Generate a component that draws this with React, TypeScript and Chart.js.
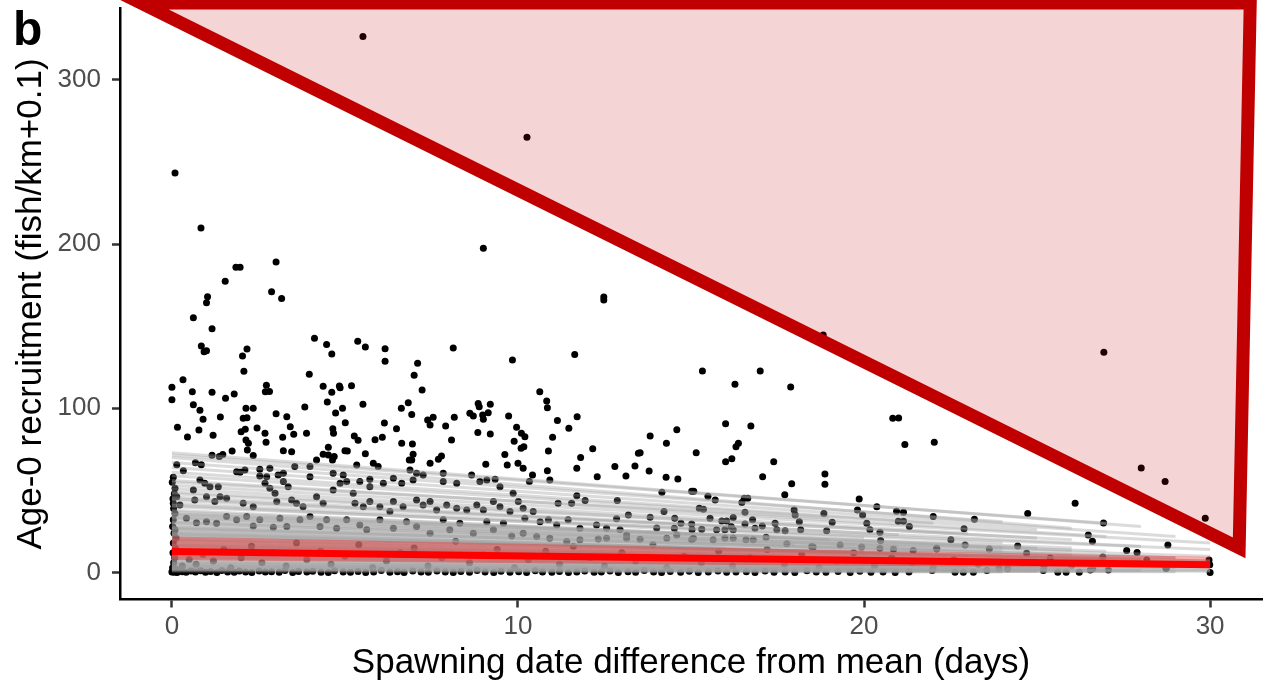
import React, { useEffect, useRef } from 'react';
import { Chart, registerables } from 'chart.js';
Chart.register(...registerables);

// axis ticks
const xTicks = [0, 10, 20, 30];
const yTicks = [0, 100, 200, 300];

// observed points: spawning date difference (days) and recruitment (fish/km+0.1)
const spawnDiff = [
  // high values
  5.52, 10.26, 0.09, 0.84, 1.85, 1.97, 3.01, 1.54, 1.03, 1.00, 2.88, 3.17, 0.62, 1.16, 0.85, 0.93, 1.00, 2.17, 2.04, 2.08,
  4.12, 4.47, 4.62, 5.37, 5.59, 6.16, 6.16, 3.97, 0.00, 0.00, 0.32, 0.59, 0.62, 0.81, 0.90, 1.16, 1.55, 1.80, 2.73, 2.70,
  2.82, 4.37, 4.62, 4.84, 4.86, 5.19, 4.49, 4.73, 4.93, 5.52, 3.84, 2.14, 2.35, 2.06, 2.17, 3.01, 3.32, 1.40, 0.16, 0.45,
  0.78, 1.19, 2.00, 2.12, 2.14, 2.21, 2.46, 2.69, 2.72, 3.20, 3.42, 3.52, 3.89, 3.22, 3.46, 1.74, 4.65, 4.67, 5.01, 5.27,
  5.38, 5.87, 6.08, 6.14, 6.49, 6.63, 6.83, 6.64, 4.52, 4.37, 4.52, 4.69, 5.00, 5.07, 5.59, 0.14, 0.68, 0.85, 1.16, 1.37,
  1.47, 9.00, 12.48, 12.48, 8.13, 7.10, 7.00, 7.23, 9.84, 11.64, 10.63, 10.83, 10.85, 6.93, 7.39, 7.55, 7.46, 7.91, 8.16, 8.08,
  8.61, 8.71, 8.85, 8.88, 8.98, 9.00, 9.14, 9.20, 8.84, 9.20, 9.73, 9.96, 10.10, 10.20, 9.89, 10.09, 10.17, 11.14, 11.47, 11.71,
  11.00, 10.88, 12.16, 11.81, 13.48, 13.82, 6.95, 6.97, 6.86, 7.79, 7.70, 7.46, 9.07, 9.62, 9.69, 10.00, 12.80, 13.38,
  18.82, 15.33, 17.00, 16.27, 17.88, 16.00, 16.73, 14.59, 14.29, 13.53, 15.15, 16.37, 16.30, 16.18, 16.00, 17.39, 13.79, 14.28,
  14.62, 17.07, 17.91, 18.87, 18.87, 14.16, 15.02, 15.08, 15.49, 15.70, 17.71, 19.86, 20.37, 20.83, 21.00, 21.18, 22.03, 16.54,
  16.64, 16.47, 15.24, 15.36, 16.56, 26.93, 28.01, 28.70, 29.86, 26.10, 24.73, 26.92, 26.48, 28.78, 27.59, 27.89, 29.97, 28.17,
  // upper part of the dense band
  4.18, 4.64, 5.34, 5.82, 5.96, 6.93, 2.18, 2.35, 0.33, 0.04, 1.87, 1.97, 2.11, 2.54, 2.83, 2.54, 2.74, 3.07, 3.22, 3.55,
  3.99, 3.99, 4.66, 4.95, 5.43, 5.72, 5.72, 6.11, 6.40, 6.64, 6.88, 7.07, 7.26, 6.97, 7.84, 7.84, 8.23, 8.66, 8.90, 9.10,
  9.34, 9.48, 10.15, 10.33, 10.42, 10.85, 10.92, 11.70, 12.29, 13.12, 11.94, 12.87,
  // mid band
  0.09, 0.14, 0.04, 0.23, 0.62, 0.81, 0.95, 1.10, 1.34, 0.66, 1.00, 1.24, 1.39, 1.58, 2.06, 2.35, 2.69, 2.83, 2.98, 3.03,
  3.22, 3.36, 3.46, 3.60, 3.79, 4.18, 4.37, 4.66, 4.86, 5.05, 5.24, 5.29, 5.53, 5.72, 6.01, 6.30, 6.40, 6.68, 7.07, 7.26,
  7.46, 7.65, 7.94, 8.23, 8.52, 8.81, 9.00, 9.29, 9.48, 9.86, 10.01, 9.77, 10.15, 10.44, 10.20, 10.64, 10.88, 11.16, 11.12, 11.45,
  11.55, 11.79, 11.70, 12.27, 12.56, 12.85, 12.95, 13.19, 13.14, 14.22, 13.82, 14.53, 14.01, 14.52, 14.71, 15.02, 15.03, 15.31, 15.55, 15.74,
  15.89, 16.03, 16.22, 15.98, 16.16, 16.22, 16.56, 16.78, 16.85, 17.06, 17.43, 17.48, 17.72, 17.98, 18.01, 18.13, 18.17, 18.84, 19.08, 18.92,
  19.81, 19.96, 20.08, 20.17, 20.46, 20.48, 20.94, 21.14, 20.99, 21.14, 21.31, 22.00, 23.19, 22.89, 22.51, 22.10, 22.92, 23.62, 24.44, 24.70,
  25.38, 26.60, 28.73,
  // lower band
  0.04, 0.09, 0.42, 0.71, 1.00, 1.29, 1.58, 1.87, 2.16, 2.35, 2.54, 2.93, 3.12, 3.32, 3.70, 3.99, 4.28, 4.47, 4.76, 5.05,
  5.43, 5.63, 6.01, 6.40, 6.78, 7.07, 7.46, 7.84, 8.03, 8.32, 8.71, 9.10, 9.29, 9.58, 9.82, 10.15, 10.54, 10.92, 11.41, 11.79,
  12.32, 12.56, 13.14, 13.53, 14.30, 14.59, 15.02, 15.07, 15.64, 15.98, 16.22, 16.59, 16.80, 17.17, 17.77, 18.49, 18.53, 19.31, 19.93, 20.46,
  20.85, 21.42, 22.10,
  // near-zero values
  0.02, 0.05, 0.08, 0.03, 0.10, 0.04, 0.12, 0.06, 0.02, 0.09, 0.05, 0.03, 0.07, 0.01, 0.11, 0.30, 0.50, 0.70, 0.90, 1.20,
  1.50, 1.70, 2.00, 2.30, 2.60, 2.90, 3.30, 3.60, 3.90, 4.30, 4.60, 5.00, 5.40, 5.80, 6.20, 6.60, 7.00, 7.40, 7.80, 8.20,
  8.60, 9.00, 9.40, 9.90, 10.30, 10.80, 11.20, 11.60, 12.10, 12.50, 13.00, 13.40, 13.90, 14.30, 14.80, 15.30, 15.80, 16.20, 16.70, 17.20,
  17.70, 18.20, 18.70, 19.20, 19.70, 20.30, 20.80, 21.40, 22.00, 22.60, 23.30, 23.90, 24.60, 25.20, 26.00, 26.90, 27.80,
  0.00, 0.03, 0.06, 0.10, 0.15, 0.22, 0.30, 0.41, 0.55, 0.68, 0.83, 0.97, 1.12, 1.30, 1.44, 1.61, 1.80, 1.95, 2.13, 2.31,
  2.52, 2.70, 2.88, 3.10, 3.27, 3.49, 3.66, 3.90, 4.07, 4.31, 4.52, 4.70, 4.95, 5.16, 5.38, 5.60, 5.83, 6.05, 6.30, 6.52,
  6.71, 6.96, 7.20, 7.41, 7.66, 7.90, 8.13, 8.35, 8.60, 8.82, 9.05, 9.30, 9.51, 9.77, 10.02, 10.25, 10.50, 10.71, 10.98, 11.20,
  11.46, 11.70, 11.93, 12.20, 12.41, 12.66, 12.90, 13.18, 13.40, 13.65, 13.92, 14.15, 14.40, 14.70, 14.95, 15.21, 15.50, 15.78, 16.03, 16.30,
  16.60, 16.85, 17.14, 17.40, 17.72, 18.00, 18.35, 18.62, 18.90, 19.25, 19.60, 19.88, 20.20, 20.55, 20.90, 21.30, 21.97, 22.63, 22.87, 23.16,
  23.55, 24.15, 25.18, 25.60, 25.84, 26.22, 26.54, 26.61, 27.06, 28.73, 30.00, 29.99
];
const recruitment = [
  326.3, 265.0, 243.3, 209.7, 185.8, 185.8, 189.0, 177.3, 167.9, 164.2, 170.9, 166.9, 155.1, 148.4, 137.9, 134.4, 135.0, 136.1, 131.8, 122.5,
  142.6, 138.9, 133.0, 140.8, 137.3, 136.3, 128.6, 120.7, 112.8, 105.2, 117.4, 110.1, 102.2, 98.8, 93.3, 109.7, 106.1, 108.7, 114.0, 110.1,
  110.3, 113.4, 109.7, 113.6, 112.5, 113.7, 103.8, 97.1, 100.0, 102.4, 100.8, 100.0, 100.0, 93.9, 94.3, 96.7, 94.9, 94.7, 88.4, 82.5,
  86.8, 83.6, 85.8, 87.2, 80.7, 78.7, 88.0, 84.8, 79.3, 82.4, 88.8, 84.2, 84.8, 74.2, 73.6, 74.0, 87.6, 84.8, 91.2, 83.2,
  80.5, 80.9, 82.4, 91.1, 87.6, 100.0, 103.4, 78.7, 76.3, 72.0, 71.6, 70.6, 74.2, 74.0, 72.4, 65.7, 66.9, 65.7, 71.4, 70.6,
  71.8, 197.5, 165.9, 167.7, 136.7, 127.4, 120.1, 111.1, 129.4, 132.8, 110.1, 104.4, 100.4, 96.3, 92.9, 94.5, 89.8, 89.2, 94.5, 80.7,
  97.0, 95.3, 103.0, 101.0, 95.9, 93.3, 97.3, 102.4, 85.2, 84.4, 95.3, 88.4, 84.8, 82.7, 79.9, 75.7, 76.6, 92.5, 87.8, 94.9,
  82.4, 74.0, 75.4, 70.0, 72.6, 83.2, 78.3, 72.0, 68.6, 71.0, 69.0, 66.5, 65.9, 71.8, 65.5, 66.5, 64.5, 64.9,
  144.6, 122.7, 122.7, 114.6, 113.0, 90.6, 89.2, 87.0, 78.7, 73.0, 73.0, 78.7, 76.6, 69.3, 67.5, 67.5, 61.9, 58.0,
  57.0, 58.4, 54.1, 60.0, 53.8, 48.9, 49.5, 49.5, 46.5, 44.2, 47.4, 44.8, 40.1, 93.9, 94.1, 77.9, 79.3, 45.3,
  45.3, 42.6, 39.2, 38.6, 36.7, 134.1, 63.7, 55.4, 33.1, 42.2, 35.9, 30.2, 22.9, 16.8, 13.4, 12.2, 7.7, 7.7,
  68.5, 68.5, 65.5, 66.5, 64.5, 68.5, 74.6, 71.2, 62.0, 58.0, 61.4, 61.1, 62.5, 62.9, 63.5, 58.8, 58.4, 59.4, 60.4, 64.5,
  64.5, 58.4, 60.4, 59.4, 55.4, 56.8, 52.3, 54.4, 57.4, 54.4, 62.5, 60.4, 59.4, 56.4, 60.4, 55.4, 54.4, 59.4, 55.4, 56.4,
  56.8, 52.3, 63.5, 55.4, 59.4, 62.0, 56.4, 63.5, 58.4, 58.8, 43.8, 43.8,
  51.3, 46.2, 42.2, 41.2, 50.3, 56.4, 54.4, 52.3, 52.3, 44.2, 46.2, 43.2, 46.2, 45.3, 42.2, 40.1, 54.4, 51.3, 48.3, 43.2,
  55.4, 52.3, 44.2, 42.2, 40.1, 46.2, 42.2, 50.3, 54.4, 55.4, 48.3, 42.2, 40.1, 43.2, 40.1, 37.1, 43.2, 40.1, 44.2, 41.2,
  43.2, 38.1, 41.2, 39.2, 38.1, 41.2, 38.1, 43.2, 40.1, 48.3, 43.2, 37.1, 39.2, 37.1, 33.1, 31.0, 32.1, 42.2, 29.0, 32.1,
  42.2, 27.0, 46.7, 29.0, 27.0, 32.7, 26.0, 35.1, 22.9, 37.1, 33.7, 33.1, 27.2, 27.0, 30.0, 29.6, 26.0, 26.4, 33.1, 26.0,
  31.4, 31.4, 33.5, 26.0, 28.0, 26.0, 29.6, 32.1, 27.0, 28.4, 30.0, 26.0, 25.5, 38.1, 35.1, 31.0, 26.0, 35.9, 30.7, 25.5,
  38.1, 35.1, 30.0, 26.0, 24.6, 19.5, 37.3, 36.7, 31.3, 31.3, 28.0, 34.1, 32.5, 26.6, 19.9, 14.4, 16.8, 14.4, 16.2, 11.8,
  8.8, 19.0, 2.7,
  32.1, 26.0, 33.1, 30.4, 31.0, 30.0, 34.1, 32.1, 34.1, 28.4, 32.1, 27.6, 33.1, 28.0, 32.1, 34.1, 28.0, 32.1, 27.0, 32.1,
  29.0, 26.0, 32.1, 27.0, 31.0, 28.0, 24.0, 32.1, 26.0, 30.0, 24.0, 31.0, 26.0, 30.0, 22.3, 24.0, 21.9, 20.9, 18.9, 19.9,
  20.5, 20.9, 20.9, 20.3, 20.9, 22.9, 19.9, 20.9, 19.9, 20.9, 20.9, 19.9, 19.9, 21.5, 17.5, 15.8, 15.5, 16.8, 15.5, 14.8,
  14.2, 13.4, 14.8,
  3.0, 6.0, 9.0, 12.0, 15.0, 18.0, 21.0, 24.0, 28.0, 36.0, 39.0, 45.0, 48.0, 55.0, 2.0, 4.0, 8.0, 5.0, 11.0, 7.0,
  14.0, 3.0, 9.0, 16.0, 6.0, 12.0, 4.0, 18.0, 8.0, 13.0, 5.0, 10.0, 17.0, 3.0, 7.0, 12.0, 15.0, 4.0, 9.0, 19.0,
  6.0, 11.0, 14.0, 3.0, 8.0, 13.0, 5.0, 16.0, 9.0, 4.0, 12.0, 7.0, 17.0, 3.0, 10.0, 6.0, 13.0, 4.0, 9.0, 14.0,
  5.0, 11.0, 3.0, 7.0, 12.0, 4.0, 9.0, 6.0, 3.0, 8.0, 5.0, 2.5, 6.0, 3.5, 4.5, 9.5, 5.4,
  0.4, 1.2, 0.2, 0.8, 0.1, 1.4, 0.5, 0.2, 0.9, 0.3, 1.1, 0.2, 0.6, 0.1, 1.3, 0.4, 0.2, 0.9, 0.3, 0.1,
  1.0, 0.3, 0.5, 0.2, 1.2, 0.1, 0.6, 0.3, 0.8, 0.2, 0.1, 1.1, 0.4, 0.2, 0.7, 0.1, 0.3, 1.3, 0.2, 0.5,
  0.1, 0.9, 0.3, 0.2, 1.0, 0.4, 0.1, 0.6, 0.2, 1.2, 0.3, 0.1, 0.8, 0.2, 0.5, 0.1, 1.1, 0.3, 0.2, 0.7,
  0.1, 0.4, 1.0, 0.2, 0.3, 0.9, 0.1, 0.5, 0.2, 1.2, 0.3, 0.1, 0.6, 0.2, 0.8, 0.1, 0.4, 1.0, 0.2, 0.3,
  0.5, 0.1, 0.9, 0.2, 0.4, 0.1, 1.1, 0.3, 0.2, 0.6, 0.1, 0.8, 0.2, 0.4, 0.1, 0.3, 1.2, 0.2, 0.2, 0.2,
  1.2, 2.3, 1.2, 0.2, 0.2, 0.2, 1.6, 2.3, 1.6, 2.7, 0.0, 4.8
];

// group-level fitted lines: value at day 0, last day, value at last day
const groupStart = [
  73, 71.5, 70, 67, 64, 61, 59, 56, 53, 51, 48, 46, 44, 42, 40, 38, 36, 34, 32, 30,
  29, 27, 26, 24, 23, 21, 20, 19, 17, 16, 15, 14, 13, 12, 11, 10, 9, 8, 7, 6,
  5.5, 5, 4, 3.5, 3, 2.5, 2, 1.5, 45, 35, 25, 18, 55, 28, 22, 33,
  1, 2.2, 3.8, 4.5, 6.5, 8.5, 9.5, 10.5, 12.5, 13.5, 15.5, 17.5, 19.5, 22.5, 24.5, 26.5, 31, 37, 41, 49,
  27.5, 30.5, 33.5, 35.5, 23.5, 20.5, 16.5, 11.5
];
const groupEndX = [
  28, 27, 26, 24, 29, 25, 22, 27, 30, 23, 26, 21, 28, 24, 30, 19, 25, 27, 22, 30,
  24, 26, 20, 28, 23, 30, 25, 18, 27, 22, 30, 24, 26, 21, 29, 25, 30, 23, 27, 20,
  30, 26, 24, 28, 22, 30, 25, 29, 17, 15, 16, 14, 19, 29, 30, 21,
  24, 27, 30, 21, 26, 29, 23, 30, 25, 28, 22, 30, 24, 27, 21, 29, 26, 23, 20, 25,
  22, 18, 24, 26, 20, 28, 23, 19
];
const groupEnd = [
  28, 30, 27, 31, 22, 26, 30, 22, 18, 24, 20, 23, 16, 18, 14, 20, 15, 13, 15, 10,
  13, 11, 13, 8, 10, 7, 8, 10, 6, 7, 5, 6, 5, 6, 4, 4, 3, 3.5, 2.5, 3,
  2, 2, 1.5, 1.2, 1.2, 0.8, 0.7, 0.5, 27, 23, 15, 11, 33, 9, 7, 16,
  0.4, 0.8, 1.2, 2.2, 2.6, 2.9, 4.2, 3.6, 5, 5, 7.3, 6, 8, 8.5, 11.5, 9, 13.5, 17, 21, 21,
  13, 17, 15, 15, 12, 8, 7.5, 6.5
];

// population-level fit and its interval
const meanLineX = [0, 30];
const meanLineY = [12.8, 4.7];
const ribbonX = [0, 15, 30];
const ribbonUpper = [21.9, 15.4, 9.7];
const ribbonLower = [7.7, 4.7, 2.9];

// highlighted region (triangle), in data units
const highlightX = [-0.9, 31.16, 30.84];
const highlightY = [346.8, 346.8, 15.0];

const panelLabel = 'b';
const xTitle = 'Spawning date difference from mean (days)';
const yTitle = 'Age-0 recruitment (fish/km+0.1)';

const FONT = "'Liberation Sans', Arial, sans-serif";

export default function App() {
  const ref = useRef<HTMLCanvasElement>(null);
  useEffect(() => {
    if (!ref.current) return;
    const points = spawnDiff.map((x, i) => ({ x, y: recruitment[i] }));
    const groupSets = groupStart.map((s, i) => ({
      type: 'line' as const,
      data: [{ x: 0, y: s }, { x: groupEndX[i], y: groupEnd[i] }],
      borderColor: 'rgba(160,160,160,0.38)',
      borderWidth: 3,
      pointRadius: 0,
      fill: false,
      order: 2,
    }));
    const overlay = {
      id: 'overlay',
      afterDatasetsDraw(chart: any) {
        const { ctx, scales } = chart;
        const xs = scales.x, ys = scales.y;
        ctx.save();
        ctx.beginPath();
        highlightX.forEach((v, i) => {
          const px = xs.getPixelForValue(v);
          const py = ys.getPixelForValue(highlightY[i]);
          if (i === 0) ctx.moveTo(px, py); else ctx.lineTo(px, py);
        });
        ctx.closePath();
        ctx.fillStyle = 'rgba(192,0,0,0.17)';
        ctx.fill();
        ctx.lineWidth = 13;
        ctx.lineJoin = 'miter';
        ctx.miterLimit = 20;
        ctx.strokeStyle = '#c00000';
        ctx.stroke();
        ctx.restore();
      },
      afterDraw(chart: any) {
        const { ctx } = chart;
        ctx.save();
        ctx.font = `bold 48px ${FONT}`;
        ctx.fillStyle = '#000';
        ctx.textBaseline = 'alphabetic';
        ctx.fillText(panelLabel, 13, 45);
        ctx.restore();
      },
    };
    const noPad = (s: any) => {
      s.paddingTop = 0; s.paddingBottom = 0; s.paddingLeft = 0; s.paddingRight = 0;
    };
    const chart = new Chart(ref.current, {
      type: 'scatter',
      data: {
        datasets: [
          {
            type: 'line',
            data: meanLineX.map((x, i) => ({ x, y: meanLineY[i] })),
            borderColor: '#ff0000',
            borderWidth: 7,
            pointRadius: 0,
            fill: false,
            order: 0,
          } as any,
          {
            type: 'line',
            data: ribbonX.map((x, i) => ({ x, y: ribbonUpper[i] })),
            borderWidth: 0,
            borderColor: 'rgba(0,0,0,0)',
            backgroundColor: 'rgba(255,0,0,0.32)',
            pointRadius: 0,
            fill: '+1',
            order: 1,
          } as any,
          {
            type: 'line',
            data: ribbonX.map((x, i) => ({ x, y: ribbonLower[i] })),
            borderWidth: 0,
            borderColor: 'rgba(0,0,0,0)',
            pointRadius: 0,
            fill: false,
            order: 1,
          } as any,
          ...(groupSets as any[]),
          {
            type: 'scatter',
            data: points,
            backgroundColor: '#000000',
            borderWidth: 0,
            pointRadius: 3.5,
            order: 3,
          } as any,
        ],
      },
      options: {
        animation: false,
        responsive: true,
        maintainAspectRatio: false,
        devicePixelRatio: 1,
        layout: { padding: { top: 8.5, right: 6, left: 0, bottom: 0 } },
        plugins: { legend: { display: false }, tooltip: { enabled: false } },
        scales: {
          x: {
            type: 'linear',
            min: -1.5,
            max: 31.5,
            afterBuildTicks: (s: any) => { s.ticks = xTicks.map((v) => ({ value: v })); },
            afterFit: (s: any) => { s.height = 91.5; noPad(s); },
            ticks: { font: { family: FONT, size: 26 }, color: '#4d4d4d', padding: 4, maxRotation: 0 },
            grid: { drawOnChartArea: false, drawTicks: true, tickLength: 8, tickColor: '#333333', tickWidth: 2.5 },
            border: { display: true, color: '#000000', width: 2.5 },
            title: { display: true, text: xTitle, font: { family: FONT, size: 35 }, color: '#000000', padding: { top: 0, bottom: 7 } },
          },
          y: {
            type: 'linear',
            min: -16.4,
            max: 343.4,
            afterBuildTicks: (s: any) => { s.ticks = yTicks.map((v) => ({ value: v })); },
            afterFit: (s: any) => { s.width = 120; noPad(s); },
            ticks: { font: { family: FONT, size: 26 }, color: '#4d4d4d', padding: 11 },
            grid: { drawOnChartArea: false, drawTicks: true, tickLength: 8, tickColor: '#333333', tickWidth: 2.5 },
            border: { display: true, color: '#000000', width: 2.5 },
            title: { display: true, text: yTitle, font: { family: FONT, size: 35 }, color: '#000000', padding: { top: 10, bottom: 0 } },
          },
        },
      } as any,
      plugins: [overlay],
    });
    return () => chart.destroy();
  }, []);
  return (
    <div style={{ position: 'absolute', left: 0, top: 0, width: 1268, height: 691, background: '#fff' }}>
      <canvas ref={ref} />
    </div>
  );
}
